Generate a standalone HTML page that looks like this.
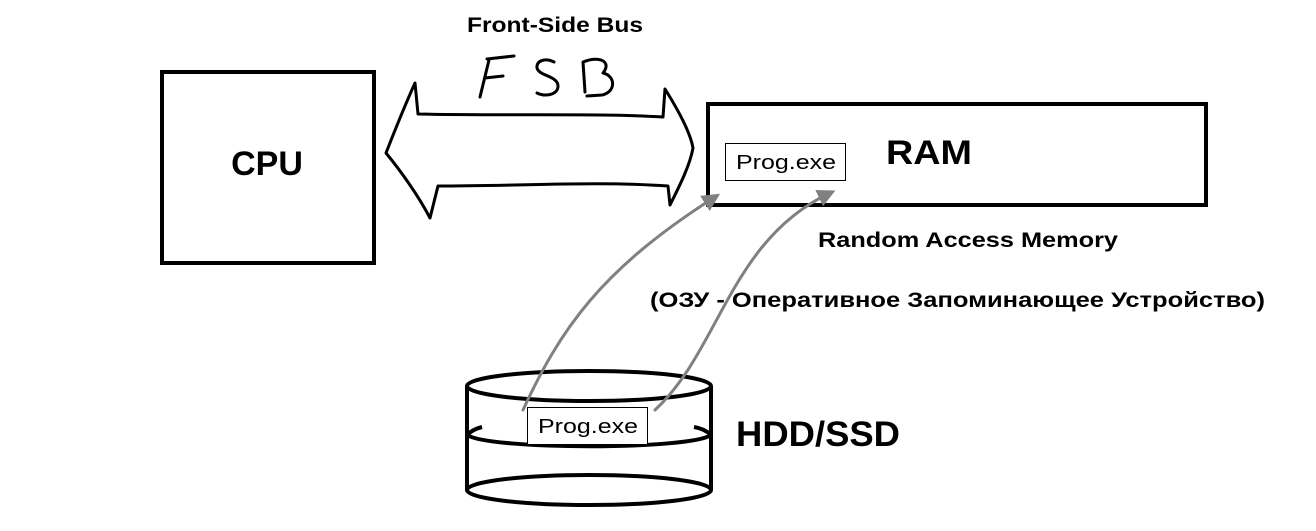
<!DOCTYPE html>
<html><head><meta charset="utf-8"><style>
html,body{margin:0;padding:0;background:#fff;width:1316px;height:531px;overflow:hidden}
svg{display:block}
text{font-family:"Liberation Sans","DejaVu Sans",sans-serif}
</style></head><body>
<svg width="1316" height="531" viewBox="0 0 1316 531" xmlns="http://www.w3.org/2000/svg">
<defs>
<marker id="ah" markerWidth="6" markerHeight="6" refX="4" refY="3" orient="auto" markerUnits="strokeWidth">
<path d="M0,0 L6,3 L0,6 z" fill="#808080"/>
</marker>
</defs>
<text x="467" y="32" font-size="21" font-weight="bold" textLength="176" lengthAdjust="spacingAndGlyphs">Front-Side Bus</text>
<!-- FSB handwritten -->
<g fill="none" stroke="#000" stroke-width="3" stroke-linecap="round" stroke-linejoin="round">
<path d="M480,97 L489,60 M487,59 L514,56 M485,78 L503,76"/>
<path d="M554,62 C546,58 536,60 537,68 C539,76 558,76 558,86 C558,95 545,97 537,93"/>
<path d="M585,92 L583,62 C600,55 612,62 603,73 C616,76 616,92 602,95 L587,96"/>
</g>
<!-- double arrow -->
<path d="M415,83 L418,114 C500,116 600,113 663,117 L665,89 C675,105 690,130 693,148 C690,165 680,185 670,205 L668,186 C600,181 520,186 438,186 L430,218 C418,195 400,170 386,153 C395,130 405,105 415,83 Z" fill="none" stroke="#000" stroke-width="3" stroke-linejoin="round"/>
<!-- CPU -->
<rect x="162" y="72" width="212" height="191" fill="none" stroke="#000" stroke-width="4"/>
<text x="267" y="175" font-size="34" font-weight="bold" text-anchor="middle">CPU</text>
<!-- RAM -->
<rect x="708" y="104" width="498" height="101" fill="none" stroke="#000" stroke-width="4"/>
<text x="886" y="164" font-size="34" font-weight="bold" textLength="86" lengthAdjust="spacingAndGlyphs">RAM</text>
<rect x="725.5" y="143.5" width="120" height="37" fill="#fff" stroke="#000" stroke-width="1"/>
<text x="736" y="169" font-size="20" textLength="100" lengthAdjust="spacingAndGlyphs">Prog.exe</text>
<text x="818" y="247" font-size="21" font-weight="bold" textLength="300" lengthAdjust="spacingAndGlyphs">Random Access Memory</text>
<text x="650" y="307" font-size="21" font-weight="bold" textLength="615" lengthAdjust="spacingAndGlyphs">(ОЗУ - Оперативное Запоминающее Устройство)</text>
<!-- cylinder -->
<g fill="none" stroke="#000" stroke-width="4">
<ellipse cx="589" cy="386" rx="122" ry="15"/>
<ellipse cx="589" cy="490" rx="122" ry="15"/>
<line x1="467" y1="386" x2="467" y2="490"/>
<line x1="711" y1="386" x2="711" y2="490"/>
<path d="M467,435 C490,450 690,450 711,435"/>
<path d="M467,435 C472,430 478,428 482,427"/>
<path d="M711,435 C706,430 700,428 694,427"/>
</g>
<rect x="527.5" y="407.5" width="120" height="37" fill="#fff" stroke="#000" stroke-width="1"/>
<text x="538" y="433" font-size="20" textLength="100" lengthAdjust="spacingAndGlyphs">Prog.exe</text>
<text x="736" y="446" font-size="35" font-weight="bold" textLength="164" lengthAdjust="spacingAndGlyphs">HDD/SSD</text>
<!-- gray arrows -->
<g fill="none" stroke="#808080" stroke-width="3" stroke-linecap="round">
<path d="M523,410 C560,330 600,270 715,197" marker-end="url(#ah)"/>
<path d="M655,410 C720,350 730,240 830,193" marker-end="url(#ah)"/>
</g>
</svg>
</body></html>
